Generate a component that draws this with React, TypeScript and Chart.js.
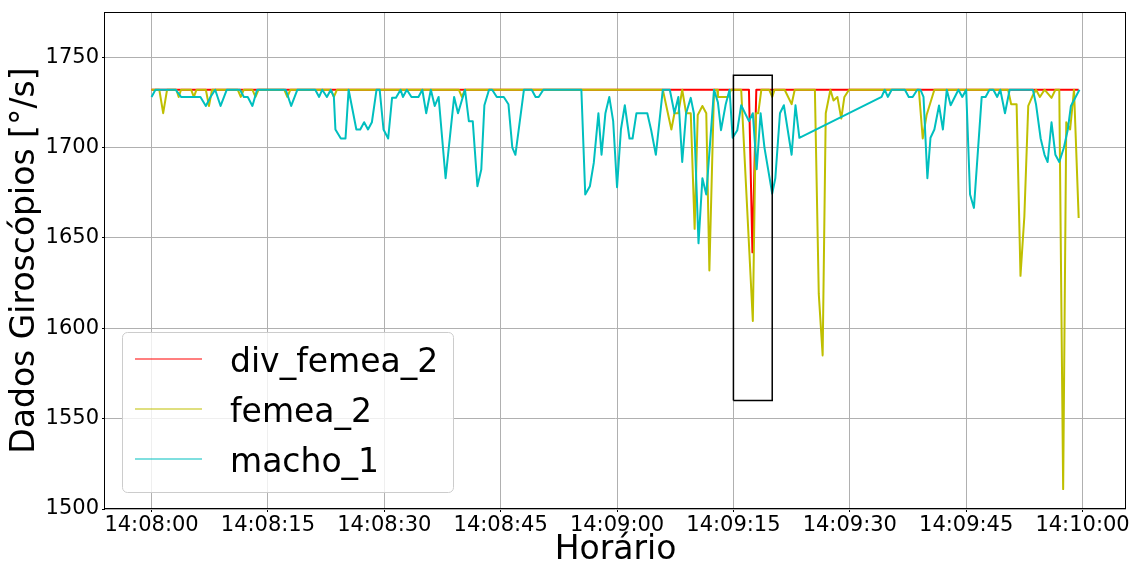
import { useEffect, useRef } from 'react';
import { Chart, registerables } from 'chart.js';

Chart.register(...registerables);

// Seconds elapsed since 14:08:00 and the matching clock labels
const tickSeconds = [0, 15, 30, 45, 60, 75, 90, 105, 120];
const tickLabels = ['14:08:00', '14:08:15', '14:08:30', '14:08:45', '14:09:00', '14:09:15', '14:09:30', '14:09:45', '14:10:00'];
const yTicks = [1500, 1550, 1600, 1650, 1700, 1750];

const seriesNames = ['div_femea_2', 'femea_2', 'macho_1'];
const seriesColors = ['#ff0000', '#bfbf00', '#00bfbf'];

// div_femea_2
const divFemeaTimes = [0, 77.0, 77.45, 77.95, 119.5];
const divFemeaValues = [1732, 1732, 1642, 1732, 1732];

// femea_2
const femeaTimes = [
  0, 1.0, 1.5, 2.0, 3.2, 3.5, 3.8, 5.1, 5.45, 5.8, 7.0, 7.4, 7.8, 11.1, 11.5, 11.9, 13.0, 13.4, 13.8,
  17.1, 17.5, 17.9, 23.1, 23.5, 23.9, 39.6, 40.0, 40.4, 65.9, 67.0, 67.4, 67.9, 68.4, 68.9, 69.5,
  70.0, 70.4, 71.0, 71.5, 71.9, 72.5, 72.9, 73.0, 74.3, 74.7, 76.0, 77.5, 77.9, 78.2, 78.6, 79.6,
  80.0, 80.3, 81.6, 82.5, 82.9, 85.5, 86.0, 86.5, 86.9, 87.5, 87.9, 88.4, 88.9, 89.3, 89.9, 98.9,
  99.4, 99.9, 100.9, 110.4, 110.8, 111.5, 112.0, 112.5, 113.0, 113.6, 114.0, 114.5, 115.1, 116.0,
  116.5, 117.0, 117.5, 117.9, 118.4, 118.9, 119.5,
];
const femeaValues = [
  1732, 1732, 1719, 1732, 1732, 1728, 1732, 1732, 1728, 1732, 1732, 1723, 1732, 1732, 1728, 1732, 1732, 1728, 1732,
  1732, 1728, 1732, 1732, 1728, 1732, 1732, 1728, 1732, 1732, 1710, 1719, 1719, 1732, 1719, 1719,
  1655, 1718, 1723, 1719, 1632, 1732, 1732, 1728, 1728, 1732, 1732, 1604, 1719, 1719, 1732, 1732,
  1728, 1732, 1732, 1724, 1732, 1732, 1619, 1585, 1719, 1732, 1726, 1728, 1716, 1728, 1732, 1732,
  1705, 1718, 1732, 1732, 1724, 1724, 1629, 1662, 1723, 1729, 1732, 1728, 1732, 1727.5,
  1732, 1732, 1511, 1714, 1710, 1732, 1661,
];

// macho_1
const machoTimes = [
  0.0, 0.5, 3.1, 3.8, 6.3, 7.0, 7.6, 8.2, 8.9, 9.7, 11.4, 11.9, 12.4, 13.0, 13.6, 17.3, 18.0, 18.8,
  21.1, 21.6, 22.0, 22.6, 23.1, 23.5, 23.7, 24.4, 25.0, 25.4, 26.4, 26.9, 27.4, 27.9, 28.4, 29.0,
  29.4, 29.9, 30.5, 31.0, 31.5, 32.1, 32.4, 32.9, 33.5, 34.4, 34.9, 35.4, 36.0, 36.5, 37.0, 37.9,
  39.0, 39.5, 40.4, 40.9, 41.4, 42.0, 42.5, 42.9, 43.5, 43.9, 44.5, 45.4, 46.0, 46.5, 46.9, 48.0,
  49.0, 49.5, 49.9, 50.5, 55.4, 55.9, 56.5, 57.0, 57.6, 58.0, 58.5, 59.0, 59.5, 60.0, 60.5, 61.0,
  61.6, 62.0, 62.5, 63.9, 64.4, 65.0, 65.9, 66.8, 67.4, 67.9, 68.4, 68.9, 69.5, 69.9, 70.5, 71.0,
  71.5, 72.5, 73.0, 73.4, 74.0, 74.5, 74.9, 75.5, 76.0, 77.0, 77.5, 78.0, 78.5, 79.0, 80.0, 80.4,
  81.0, 81.5, 82.5, 83.0, 83.5, 94.1, 94.5, 94.9, 95.4, 97.1, 97.6, 98.1, 98.7, 99.1, 99.5, 100.0,
  100.4, 100.9, 101.5, 102.0, 102.5, 103.0, 104.0, 104.5, 105.0, 105.5, 106.0, 107.0, 107.5, 108.0,
  108.5, 109.0, 109.4, 110.0, 110.6, 113.6, 114.0, 114.6, 115.1, 115.5, 116.0, 116.5, 117.0, 117.6,
  118.1, 118.5, 119.6,
];
const machoValues = [
  1728, 1732, 1732, 1728, 1728, 1723, 1728, 1732, 1723, 1732, 1732, 1728, 1728, 1723, 1732, 1732, 1723, 1732,
  1732, 1728, 1732, 1728, 1732, 1728, 1710, 1705, 1705, 1732, 1710, 1710, 1714, 1710, 1714, 1732,
  1732, 1710, 1705, 1727.5, 1727.5, 1732, 1728, 1732, 1728, 1728, 1732, 1719, 1732, 1723, 1728, 1683,
  1728, 1719, 1732, 1714.6, 1714.6, 1678.6, 1687.8, 1723.4, 1732, 1732, 1728, 1728, 1724, 1700, 1696, 1732,
  1732, 1728, 1728, 1732, 1732, 1674, 1678.6, 1691.5, 1719, 1696, 1719, 1728, 1714.6, 1678, 1710, 1723.4,
  1705, 1705, 1719, 1719, 1709.6, 1696, 1732, 1732, 1719, 1728, 1692, 1719, 1727.5, 1719, 1647, 1683,
  1674, 1732, 1725, 1709.6, 1723.8, 1732, 1705.4, 1709.6, 1723.4, 1714.6, 1719, 1688, 1719, 1700, 1674.5, 1683,
  1719, 1723.4, 1696, 1723.4, 1705.4, 1728, 1732, 1728, 1732, 1732, 1728, 1728, 1732, 1732, 1728, 1683,
  1705.4, 1710, 1723.3, 1710, 1732, 1723.4, 1732, 1728, 1732, 1674, 1666.6, 1728, 1728, 1732,
  1732, 1728, 1732, 1719, 1732, 1732, 1724, 1705, 1696, 1692, 1714, 1696, 1692, 1700,
  1710, 1723, 1732,
];

// Highlighted window around 14:09:15–14:09:20
const highlightTimes = [75, 80];
const highlightRange = [1560, 1740];

const FONT = 'DejaVu Sans';

const toPoints = (times: number[], values: number[]) => times.map((t, i) => ({ x: t, y: values[i] }));

const framePlugin = {
  id: 'frame',
  afterDatasetsDraw(chart: any) {
    const { ctx, chartArea } = chart;
    ctx.save();
    ctx.strokeStyle = '#000';
    ctx.lineWidth = 1;
    ctx.strokeRect(
      Math.round(chartArea.left) - 0.5,
      Math.round(chartArea.top) + 0.5,
      Math.round(chartArea.right - chartArea.left),
      Math.round(chartArea.bottom - chartArea.top) - 1,
    );
    ctx.restore();
  },
};

const boxLegendPlugin = {
  id: 'boxLegend',
  afterDraw(chart: any) {
    const { ctx } = chart;
    const x0 = 122.5;
    const y0 = 332.5;
    const w = 331;
    const h = 160;
    const r = 5;
    ctx.save();
    ctx.beginPath();
    ctx.moveTo(x0 + r, y0);
    ctx.lineTo(x0 + w - r, y0);
    ctx.arcTo(x0 + w, y0, x0 + w, y0 + r, r);
    ctx.lineTo(x0 + w, y0 + h - r);
    ctx.arcTo(x0 + w, y0 + h, x0 + w - r, y0 + h, r);
    ctx.lineTo(x0 + r, y0 + h);
    ctx.arcTo(x0, y0 + h, x0, y0 + h - r, r);
    ctx.lineTo(x0, y0 + r);
    ctx.arcTo(x0, y0, x0 + r, y0, r);
    ctx.closePath();
    ctx.fillStyle = 'rgba(255,255,255,0.8)';
    ctx.fill();
    ctx.strokeStyle = '#cccccc';
    ctx.lineWidth = 1;
    ctx.stroke();

    ctx.font = `33px "${FONT}"`;
    ctx.textAlign = 'left';
    ctx.textBaseline = 'alphabetic';
    seriesNames.forEach((name, i) => {
      const cy = 359 + i * 50;
      ctx.beginPath();
      ctx.strokeStyle = seriesColors[i];
      ctx.lineWidth = 1.2;
      ctx.moveTo(135, cy);
      ctx.lineTo(202, cy);
      ctx.stroke();
      ctx.fillStyle = '#000';
      ctx.fillText(name, 230, cy + 12.7);
    });
    ctx.restore();
  },
};

export default function App() {
  const canvasRef = useRef<HTMLCanvasElement>(null);

  useEffect(() => {
    const canvas = canvasRef.current;
    if (!canvas) return;

    const lineStyle = {
      borderWidth: 2,
      pointRadius: 0,
      tension: 0,
      fill: false,
      borderJoinStyle: 'round' as const,
      borderCapStyle: 'butt' as const,
    };

    const chart = new Chart(canvas, {
      type: 'line',
      data: {
        datasets: [
          {
            label: seriesNames[0],
            data: toPoints(divFemeaTimes, divFemeaValues),
            borderColor: seriesColors[0],
            order: 3,
            ...lineStyle,
          },
          {
            label: seriesNames[1],
            data: toPoints(femeaTimes, femeaValues),
            borderColor: seriesColors[1],
            order: 2,
            ...lineStyle,
          },
          {
            label: seriesNames[2],
            data: toPoints(machoTimes, machoValues),
            borderColor: seriesColors[2],
            order: 1,
            ...lineStyle,
          },
          {
            label: 'destaque',
            data: [
              { x: highlightTimes[0], y: highlightRange[0] },
              { x: highlightTimes[0], y: highlightRange[1] },
              { x: highlightTimes[1], y: highlightRange[1] },
              { x: highlightTimes[1], y: highlightRange[0] },
              { x: highlightTimes[0], y: highlightRange[0] },
            ],
            borderColor: '#000',
            borderWidth: 1.5,
            pointRadius: 0,
            tension: 0,
            fill: false,
            borderJoinStyle: 'miter',
            order: 0,
          },
        ],
      },
      options: {
        responsive: false,
        animation: false,
        devicePixelRatio: 1,
        layout: { padding: { top: 12, right: 6, bottom: 0, left: 0 } },
        plugins: {
          legend: { display: false },
          tooltip: { enabled: false },
        },
        scales: {
          x: {
            type: 'linear',
            min: -6,
            max: 125.6,
            afterBuildTicks: (axis: any) => {
              axis.ticks = tickSeconds.map((v) => ({ value: v }));
            },
            afterFit: (scale: any) => {
              scale.height = 54;
              scale.paddingLeft = 0;
              scale.paddingRight = 0;
            },
            ticks: {
              callback: (_v: any, i: number) => tickLabels[i],
              font: { family: FONT, size: 21 },
              color: '#000',
              padding: 0.5,
              maxRotation: 0,
              autoSkip: false,
            },
            grid: {
              color: '#b0b0b0',
              lineWidth: 1,
              tickColor: '#000',
              tickLength: 3,
            },
            border: { display: false },
            title: {
              display: true,
              text: 'Horário',
              color: '#000',
              font: { family: FONT, size: 33, lineHeight: 0.75 },
              padding: { top: 0, bottom: 0 },
            },
          },
          y: {
            type: 'linear',
            min: 1500,
            max: 1775,
            afterBuildTicks: (axis: any) => {
              axis.ticks = yTicks.map((v) => ({ value: v }));
            },
            afterFit: (scale: any) => {
              scale.width = 105;
              scale.paddingTop = 0;
              scale.paddingBottom = 0;
            },
            ticks: {
              callback: (v: any) => String(v),
              font: { family: FONT, size: 21 },
              color: '#000',
              padding: 3,
            },
            grid: {
              color: '#b0b0b0',
              lineWidth: 1,
              tickColor: '#000',
              tickLength: 3,
            },
            border: { display: false },
            title: {
              display: true,
              text: 'Dados Giroscópios [°/s]',
              color: '#000',
              font: { family: FONT, size: 33, lineHeight: 1.2 },
              padding: { top: 6, bottom: 0 },
            },
          },
        },
      },
      plugins: [framePlugin, boxLegendPlugin],
    });

    return () => chart.destroy();
  }, []);

  return (
    <div style={{ position: 'fixed', left: 0, top: 0, width: 1132, height: 563, background: '#fff' }}>
      <canvas ref={canvasRef} width={1132} height={563} style={{ display: 'block', width: 1132, height: 563 }} />
    </div>
  );
}
